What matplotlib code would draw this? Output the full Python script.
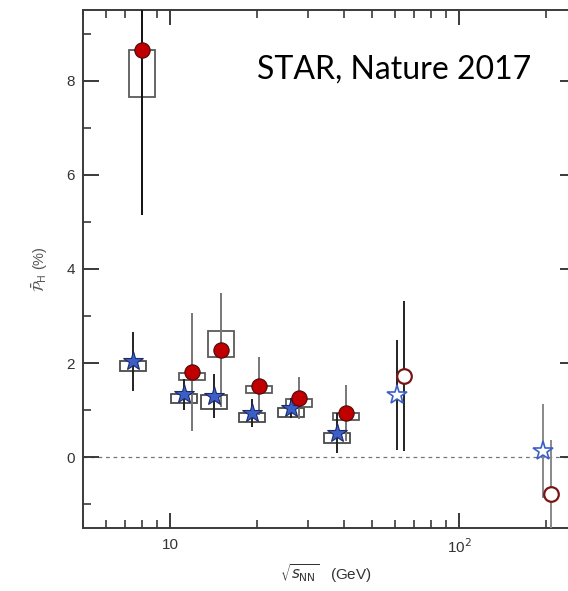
import matplotlib
matplotlib.use("Agg")
import matplotlib.pyplot as plt
from matplotlib.patches import Rectangle
from matplotlib.ticker import LogLocator, NullFormatter, FixedLocator, FuncFormatter
import numpy as np

# Lambda (stars): collision energy, polarization (%), stat error, systematic box
lam_energy = [7.45, 11.2, 14.2, 19.2, 26.2, 37.8]
lam_pol = [2.04, 1.34, 1.30, 0.94, 1.04, 0.51]
lam_err = [0.63, 0.33, 0.47, 0.30, 0.21, 0.43]
lam_sys_lo = [1.83, 1.15, 1.02, 0.74, 0.85, 0.30]
lam_sys_hi = [2.04, 1.34, 1.32, 0.94, 1.04, 0.51]

# anti-Lambda (circles)
alam_energy = [8.0, 11.9, 15.0, 20.3, 27.9, 40.6]
alam_pol = [8.66, 1.81, 2.28, 1.51, 1.25, 0.94]
alam_err = [3.51, 1.26, 1.22, 0.61, 0.45, 0.59]
alam_sys_lo = [7.66, 1.64, 2.13, 1.36, 1.06, 0.79]
alam_sys_hi = [8.66, 1.79, 2.68, 1.51, 1.23, 0.94]

# earlier measurements at 62.4 and 200 GeV (open symbols)
old_lam_energy = [61.0, 195.0]
old_lam_pol = [1.32, 0.13]
old_lam_err = [1.18, 1.00]
old_alam_energy = [64.6, 208.0]
old_alam_pol = [1.72, -0.79]
old_alam_err = [1.60, 1.15]

y_major = [0, 2, 4, 6, 8]
y_minor = [-1, 1, 3, 5, 7, 9]

W, H = 568, 591
fig = plt.figure(figsize=(W / 100, H / 100), dpi=100)
ax = fig.add_axes([83 / W, 63 / H, (576 - 83) / W, (528 - 10) / H])
ax.set_xscale("log")
ax.set_xlim(5, 254)
ax.set_ylim(-1.51, 9.51)

spine_c = "#3a3a3a"
for s in ax.spines.values():
    s.set_color(spine_c)
    s.set_linewidth(1.4)

ax.axhline(0, color="#777777", lw=0.9, ls=(0, (3, 3)), zorder=1)

half = 0.045  # half box width in decades


def boxes(xs, lo, hi, color):
    for x, a, b in zip(xs, lo, hi):
        x0 = x * 10 ** (-half)
        x1 = x * 10 ** half
        ax.add_patch(Rectangle((x0, a), x1 - x0, b - a, fill=False,
                               edgecolor=color, lw=1.3, zorder=2))


boxes(lam_energy, lam_sys_lo, lam_sys_hi, "#4a4a4a")
boxes(alam_energy, alam_sys_lo, alam_sys_hi, "#5a5a5a")

ax.errorbar(lam_energy, lam_pol, yerr=lam_err, fmt="none", ecolor="#222222",
            elinewidth=1.4, capsize=0, zorder=3)
ax.errorbar(alam_energy[:1], alam_pol[:1], yerr=alam_err[:1], fmt="none",
            ecolor="#111111", elinewidth=1.4, capsize=0, zorder=3)
ax.errorbar(alam_energy[1:], alam_pol[1:], yerr=alam_err[1:], fmt="none",
            ecolor="#777777", elinewidth=1.4, capsize=0, zorder=3)
ax.errorbar(old_lam_energy[:1], old_lam_pol[:1], yerr=old_lam_err[:1], fmt="none",
            ecolor="#222222", elinewidth=1.4, capsize=0, zorder=3)
ax.errorbar(old_alam_energy[:1], old_alam_pol[:1], yerr=old_alam_err[:1], fmt="none",
            ecolor="#222222", elinewidth=1.4, capsize=0, zorder=3)
ax.errorbar(old_lam_energy[1:], old_lam_pol[1:], yerr=old_lam_err[1:], fmt="none",
            ecolor="#888888", elinewidth=1.4, capsize=0, zorder=3)
ax.errorbar(old_alam_energy[1:], old_alam_pol[1:], yerr=old_alam_err[1:], fmt="none",
            ecolor="#888888", elinewidth=1.4, capsize=0, zorder=3)

ax.plot(lam_energy, lam_pol, ls="none", marker="*", ms=15, mfc="#3b5fc8",
        mec="#1c2a66", mew=0.8, zorder=5)
ax.plot(alam_energy, alam_pol, ls="none", marker="o", ms=11, mfc="#c00000",
        mec="#4a0a0a", mew=0.8, zorder=5)
ax.plot(old_lam_energy, old_lam_pol, ls="none", marker="*", ms=15, mfc="white",
        mec="#3b5fc8", mew=1.2, zorder=5)
ax.plot(old_alam_energy, old_alam_pol, ls="none", marker="o", ms=10.5, mfc="white",
        mec="#7a1515", mew=1.6, zorder=5)

# ticks
ax.yaxis.set_major_locator(FixedLocator(y_major))
ax.yaxis.set_minor_locator(FixedLocator(y_minor))
ax.xaxis.set_major_locator(LogLocator(base=10, numticks=5))
ax.xaxis.set_minor_locator(LogLocator(base=10, subs=np.arange(2, 10), numticks=20))
ax.xaxis.set_minor_formatter(NullFormatter())


def xfmt(v, pos):
    if np.isclose(v, 10):
        return "10"
    if np.isclose(v, 100):
        return "10$^2$"
    return ""


ax.xaxis.set_major_formatter(FuncFormatter(xfmt))
ax.tick_params(which="both", direction="in", top=True, right=True,
               color=spine_c, labelcolor="#333333", labelsize=11)
ax.tick_params(which="major", length=11.5, width=1.4, pad=6)
ax.tick_params(which="minor", length=5.5, width=1.2)
ax.tick_params(axis="x", which="major", length=10.5, pad=7)
for lab in ax.get_xticklabels() + ax.get_yticklabels():
    lab.set_family("Liberation Sans")

fig.text(40 / W, 1 - 269 / H, r"$\bar{\mathcal{P}}_{\mathrm{H}}$ (%)", rotation=90,
         ha="center", va="center", fontsize=10.5, color="#555555",
         family="Liberation Sans")
fig.text(326 / W, 1 - 574 / H, r"$\sqrt{s_{\mathrm{NN}}}$   (GeV)",
         ha="center", va="center", fontsize=11, color="#333333",
         family="Liberation Sans")

fig.text(394 / W, 1 - 70 / H, "STAR, Nature 2017", ha="center", va="center",
         fontsize=23, color="black", family="Lato")

fig.savefig("out.png", dpi=100)
